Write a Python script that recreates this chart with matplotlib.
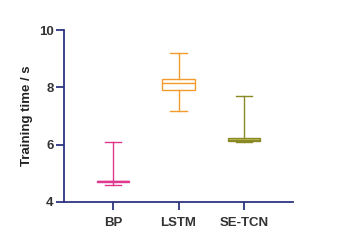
import matplotlib
matplotlib.use("Agg")
import matplotlib.pyplot as plt

plt.rcParams['font.family'] = ['Liberation Sans', 'DejaVu Sans']

models = ["BP", "LSTM", "SE-TCN"]
# five-number summaries: whisker low, q1, median, q3, whisker high
whislo = [4.58, 7.19, 6.08]
q1 = [4.70, 7.90, 6.13]
med = [4.72, 8.14, 6.18]
q3 = [4.74, 8.28, 6.24]
whishi = [6.08, 9.19, 7.70]
edge_colors = ["#e0388f", "#f39a2c", "#8a8a25"]
face_colors = ["white", "white", "#c8c86a"]
axis_color = "#2e3580"

stats = []
for i, name in enumerate(models):
    stats.append(dict(label=name, whislo=whislo[i], q1=q1[i], med=med[i],
                      q3=q3[i], whishi=whishi[i], fliers=[]))

fig = plt.figure(figsize=(3.54, 2.52), dpi=100)
ax = fig.add_axes([64 / 354, 1 - 202 / 252, 229 / 354, 172 / 252])

for i, s in enumerate(stats):
    c = edge_colors[i]
    ax.bxp([s], positions=[i + 1], widths=0.5, patch_artist=True,
           showfliers=False,
           boxprops=dict(edgecolor=c, facecolor=face_colors[i], linewidth=1.0),
           medianprops=dict(color=c, linewidth=1.0),
           whiskerprops=dict(color=c, linewidth=1.0),
           capprops=dict(color=c, linewidth=1.0),
           capwidths=0.25)

ax.set_xlim(0.25, 3.75)
ax.set_ylim(4, 10)
ax.set_yticks([4, 6, 8, 10])
ax.set_xticks([1, 2, 3])
ax.set_xticklabels(models)

for side in ["top", "right"]:
    ax.spines[side].set_visible(False)
for side in ["left", "bottom"]:
    ax.spines[side].set_color(axis_color)
    ax.spines[side].set_linewidth(1.3)

ax.tick_params(axis="both", colors=axis_color, width=1.3, length=5.5, labelsize=9.5)
ax.tick_params(axis="y", pad=2)
ax.tick_params(axis="x", pad=5)
for lab in ax.get_xticklabels() + ax.get_yticklabels():
    lab.set_color("#333333")
    lab.set_fontweight("bold")

ax.set_ylabel("Training time / s", fontsize=9.5, fontweight="bold", color="#222222", labelpad=4)

fig.savefig("out.png", dpi=100)
